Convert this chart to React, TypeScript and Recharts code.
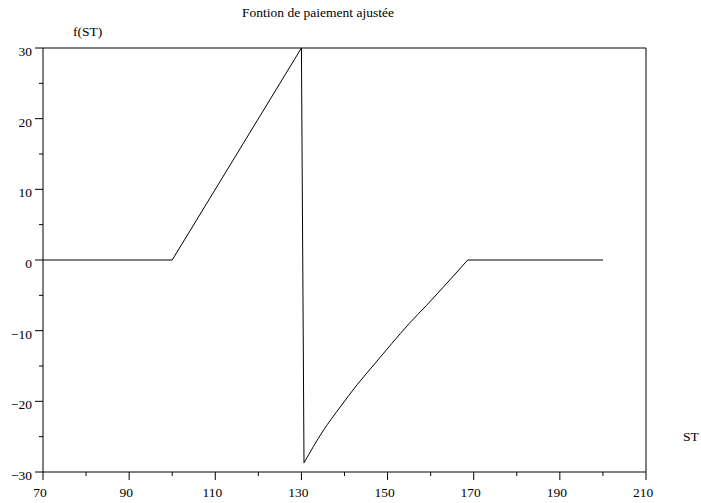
import { LineChart, Line, XAxis, YAxis, ReferenceLine } from "recharts";

// payoff profile: underlying price at expiry vs adjusted payoff
// straight pieces (flat, ramp, drop)
const rampSt = [70, 100, 130, 130.6];
const rampF = [0, 0, 30, -28.7];
// concave recovery after the drop
const curveSt = [130.6, 135, 139, 143, 147, 151, 155, 159, 163, 167, 168.6];
const curveF = [-28.7, -24.2, -20.8, -17.6, -14.7, -11.8, -9.0, -6.45, -3.8, -1.1, 0];
// flat tail
const tailSt = [168.6, 200];
const tailF = [0, 0];

const xTicks = [70, 80, 90, 100, 110, 120, 130, 140, 150, 160, 170, 180, 190, 200, 210];
const yTicks = [-30, -25, -20, -15, -10, -5, 0, 5, 10, 15, 20, 25, 30];

const toRows = (xs: number[], ys: number[]) => xs.map((st, i) => ({ st, f: ys[i] }));
const rampData = toRows(rampSt, rampF);
const curveData = toRows(curveSt, curveF);
const tailData = toRows(tailSt, tailF);

const font = "Liberation Serif, Times New Roman, serif";
const textStyle = { fontFamily: font, fontSize: 13.5 };

const fmt = (v: number) => (v < 0 ? `\u2212${Math.abs(v)}` : `${v}`);

function XTick({ x, y, payload }: any) {
  const major = (payload.value - 70) % 20 === 0;
  return (
    <g>
      <line x1={x} x2={x} y1={y} y2={y + (major ? 8 : 4)} stroke="#000" />
      {major && (
        <text x={x - 3} y={y + 25} textAnchor="middle" fill="#000" style={textStyle}>
          {fmt(payload.value)}
        </text>
      )}
    </g>
  );
}

function YTick({ x, y, payload }: any) {
  const major = payload.value % 10 === 0;
  return (
    <g>
      <line x1={x - (major ? 8 : 4)} x2={x} y1={y} y2={y} stroke="#000" />
      {major && (
        <text x={x - 11} y={y + 8} textAnchor="end" fill="#000" style={textStyle}>
          {fmt(payload.value)}
        </text>
      )}
    </g>
  );
}

export default function App() {
  return (
    <div style={{ position: "absolute", left: 0, top: 0, width: 701, height: 503, background: "#fff", ...textStyle }}>
      <div style={{ position: "absolute", left: 0, width: 636, top: 5, textAlign: "center", lineHeight: "16px", ...textStyle }}>
        Fontion de paiement ajustée
      </div>
      <div style={{ position: "absolute", left: 73, top: 24, lineHeight: "16px", ...textStyle }}>f(ST)</div>
      <div style={{ position: "absolute", left: 683, top: 429, lineHeight: "16px", ...textStyle }}>ST</div>
      <LineChart width={701} height={503} margin={{ top: 48, right: 55, bottom: 0, left: 0 }}>
        <XAxis
          dataKey="st"
          type="number"
          domain={[70, 210]}
          ticks={xTicks}
          interval={0}
          height={31}
          tickSize={0}
          tickMargin={0}
          tickLine={false}
          axisLine={{ stroke: "#000" }}
          tick={<XTick />}
          allowDuplicatedCategory={false}
        />
        <YAxis
          type="number"
          domain={[-30, 30]}
          ticks={yTicks}
          interval={0}
          width={43}
          tickSize={0}
          tickMargin={0}
          tickLine={false}
          axisLine={{ stroke: "#000" }}
          tick={<YTick />}
        />
        <ReferenceLine y={30} stroke="#000" />
        <ReferenceLine x={210} stroke="#000" />
        <Line data={rampData} type="linear" dataKey="f" stroke="#000" strokeWidth={1} dot={false} isAnimationActive={false} />
        <Line data={curveData} type="monotone" dataKey="f" stroke="#000" strokeWidth={1} dot={false} isAnimationActive={false} />
        <Line data={tailData} type="linear" dataKey="f" stroke="#000" strokeWidth={1} dot={false} isAnimationActive={false} />
      </LineChart>
    </div>
  );
}
